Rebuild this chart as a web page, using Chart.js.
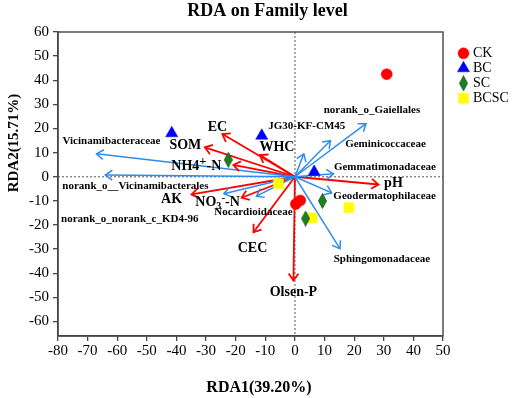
<!DOCTYPE html>
<html><head><meta charset="utf-8">
<script src="https://cdn.jsdelivr.net/npm/chart.js@4/dist/chart.umd.min.js"></script>
<style>html,body{margin:0;padding:0;background:#fff;}canvas{display:block;}</style>
</head><body>
<canvas id="c" width="512" height="398"></canvas>
<script>
// ---- data ----
const xTicks = [-80,-70,-60,-50,-40,-30,-20,-10,0,10,20,30,40,50];
const yTicks = [-60,-50,-40,-30,-20,-10,0,10,20,30,40,50,60];
const groups = ['CK','BC','SC','BCSC'];
const ckX = [31, 0.3, 1.8];
const ckY = [42.5, -11.3, -9.8];
const bcX = [-41.6, -11.2, 6.5];
const bcY = [18, 17, 2];
const scX = [-22.5, 9.3, 3.6];
const scY = [7, -10, -17.3];
const bcscX = [-5.6, 18.2, 5.8];
const bcscY = [-2.8, -12.8, -17];
const envNames = ['EC','SOM','NH4+-N','WHC','AK','NO3-N','CEC','Olsen-P','pH'];
const envX = [-24.5, -30.4, -20.8, -11.8, -34.9, -18, -14, -0.5, 28.2];
const envY = [17.7, 12.2, 4.9, 9, -7.3, -8.7, -23, -43, -3.2];
const spNames = ['Vicinamibacteraceae','norank_o__Vicinamibacterales','norank_o_norank_c_KD4-96','Nocardioidaceae','JG30-KF-CM45','Geminicoccaceae','norank_o_Gaiellales','Gemmatimonadaceae','Geodermatophilaceae','Sphingomonadaceae'];
const spX = [-67, -64, -24, -13, 3, 12, 24, 13, 12.4, 15.2];
const spY = [9.5, 0.7, -7, -8, 9.5, 15, 22, 1.2, -6.7, -29.8];

// ---- styling (pixel offsets of labels from arrow tips) ----
const envLabelOff = [[-5,-7],[-19.5,-2],[-37,1],[17,-7.5],[-20,5],[-24,5],[-1,16],[0,12],[15,-1]];
const spLabelOff = [[15,-13],[30,11],[-94,26],[-3,16],[3,-28],[55,4],[6,-14],[51.5,-7],[53,3],[42,10.5]];
const RED = '#ff0000', BLUE = '#2a8cf0';
const SERIF = '"Liberation Serif", "Times New Roman", serif';

function pts(xs, ys){ return xs.map((x,i)=>({x:x, y:ys[i]})); }

// elongated diamond marker
function makeDiamond(w,h){
  const cv = document.createElement('canvas'); cv.width = w; cv.height = h;
  const c = cv.getContext('2d');
  c.beginPath(); c.moveTo(w/2,0.5); c.lineTo(w-0.5,h/2); c.lineTo(w/2,h-0.5); c.lineTo(0.5,h/2); c.closePath();
  c.fillStyle = '#1f7f1f'; c.fill(); c.strokeStyle='#145214'; c.lineWidth=0.8; c.stroke();
  return cv;
}
const diamond = makeDiamond(9,16);

const datasets = [];
envNames.forEach((n,i)=>{
  datasets.push({label:'env_'+n, data:[{x:0,y:0},{x:envX[i],y:envY[i]}], showLine:true, borderColor:RED, borderWidth:1.8, pointRadius:0, order:2, kind:'env', idx:i});
});
spNames.forEach((n,i)=>{
  datasets.push({label:'sp_'+n, data:[{x:0,y:0},{x:spX[i],y:spY[i]}], showLine:true, borderColor:BLUE, borderWidth:1.5, pointRadius:0, order:1, kind:'sp', idx:i});
});
const sampleStyles = [
  {pointStyle:'circle', radius:5.5, backgroundColor:'#ff0000', borderColor:'#ff0000'},
  {pointStyle:'triangle', radius:7, backgroundColor:'#0000ff', borderColor:'#0000ff'},
  {pointStyle:diamond, radius:8, backgroundColor:'#1f7f1f', borderColor:'#1f7f1f'},
  {pointStyle:'rect', radius:7, backgroundColor:'#ffff00', borderColor:'#ffff00'}
];
const sampleData = [pts(ckX,ckY), pts(bcX,bcY), pts(scX,scY), pts(bcscX,bcscY)];
groups.forEach((g,i)=>{
  const s = sampleStyles[i];
  datasets.push({label:g, data:sampleData[i], showLine:false, pointStyle:s.pointStyle, pointRadius:s.radius, pointBackgroundColor:s.backgroundColor, pointBorderColor:s.borderColor, pointBorderWidth:0.5, order:0, kind:'sample'});
});

function richText(ctx, segs, cx, cy, size, weight){
  let total = 0;
  segs.forEach(s=>{ ctx.font = weight+' '+(size*s[2])+'px '+SERIF; total += ctx.measureText(s[0]).width; });
  let x = cx - total/2;
  ctx.textAlign='left'; ctx.textBaseline='middle';
  segs.forEach(s=>{ ctx.font = weight+' '+(size*s[2])+'px '+SERIF; ctx.fillText(s[0], x, cy + s[1]); x += ctx.measureText(s[0]).width; });
}

const rdaPlugin = {
  id:'rda',
  beforeDatasetsDraw(chart){
    const ctx = chart.ctx, xs = chart.scales.x, ys = chart.scales.y, a = chart.chartArea;
    ctx.save();
    ctx.strokeStyle = '#7a7a7a'; ctx.lineWidth = 1.3; ctx.setLineDash([2,2]);
    const x0 = xs.getPixelForValue(0), y0 = ys.getPixelForValue(0);
    ctx.beginPath(); ctx.moveTo(x0, a.top); ctx.lineTo(x0, a.bottom); ctx.stroke();
    ctx.beginPath(); ctx.moveTo(a.left, y0); ctx.lineTo(a.right, y0); ctx.stroke();
    ctx.restore();
  },
  afterDatasetsDraw(chart){
    const ctx = chart.ctx, xs = chart.scales.x, ys = chart.scales.y, a = chart.chartArea;
    ctx.save();
    // arrowheads
    chart.data.datasets.forEach(ds=>{
      if (ds.kind!=='env' && ds.kind!=='sp') return;
      const p0 = ds.data[0], p1 = ds.data[1];
      const x0 = xs.getPixelForValue(p0.x), y0 = ys.getPixelForValue(p0.y);
      const x1 = xs.getPixelForValue(p1.x), y1 = ys.getPixelForValue(p1.y);
      const ang = Math.atan2(y1-y0, x1-x0), L = 8.5, h = 0.62;
      ctx.strokeStyle = ds.borderColor; ctx.lineWidth = ds.borderWidth; ctx.setLineDash([]);
      ctx.beginPath();
      ctx.moveTo(x1 - L*Math.cos(ang-h), y1 - L*Math.sin(ang-h));
      ctx.lineTo(x1, y1);
      ctx.lineTo(x1 - L*Math.cos(ang+h), y1 - L*Math.sin(ang+h));
      ctx.stroke();
    });
    // labels
    ctx.fillStyle = '#000';
    envNames.forEach((n,i)=>{
      const px = xs.getPixelForValue(envX[i]) + envLabelOff[i][0];
      const py = ys.getPixelForValue(envY[i]) + envLabelOff[i][1];
      let segs;
      if (n==='NH4+-N') segs = [['NH4',0,1],['+',-4,0.9],['-N',0,1]];
      else if (n==='NO3-N') segs = [['NO',0,1],['3',4,0.72],['-',-5,0.8],['-N',0,1]];
      else segs = [[n,0,1]];
      richText(ctx, segs, px, py, 14, 'bold');
    });
    ctx.font = 'bold 11px '+SERIF; ctx.textAlign='center'; ctx.textBaseline='middle';
    spNames.forEach((n,i)=>{
      const px = xs.getPixelForValue(spX[i]) + spLabelOff[i][0];
      const py = ys.getPixelForValue(spY[i]) + spLabelOff[i][1];
      ctx.fillText(n, px, py);
    });
    // frame
    ctx.strokeStyle = '#454545'; ctx.lineWidth = 1.4;
    ctx.strokeRect(a.left, a.top, a.right-a.left, a.bottom-a.top);
    ctx.restore();
  },
  afterDraw(chart){
    const ctx = chart.ctx, a = chart.chartArea;
    ctx.save();
    ctx.fillStyle = '#000'; ctx.textAlign='center'; ctx.textBaseline='middle';
    ctx.font = 'bold 18px '+SERIF;
    ctx.fillText('RDA on Family level', 267.5, 11);
    ctx.font = 'bold 16px '+SERIF;
    ctx.fillText('RDA1(39.20%)', 259, 388);
    ctx.save(); ctx.translate(14, 143); ctx.rotate(-Math.PI/2);
    ctx.font = 'bold 15px '+SERIF; ctx.fillText('RDA2(15.71%)', 0, 0); ctx.restore();
    // legend
    const ly = [53.3, 68.3, 83.3, 98.3];
    groups.forEach((g,i)=>{
      const s = sampleStyles[i];
      ctx.fillStyle = s.backgroundColor; ctx.strokeStyle = s.borderColor; ctx.lineWidth = 0.5;
      Chart.helpers.drawPoint(ctx, {pointStyle:s.pointStyle, radius:s.radius, rotation:0, borderWidth:0.5}, 463.5, ly[i]);
      ctx.fillStyle = '#000'; ctx.font = '14px '+SERIF; ctx.textAlign='left'; ctx.textBaseline='middle';
      ctx.fillText(g, 473, ly[i]+0.5);
    });
    ctx.restore();
  }
};

new Chart(document.getElementById('c'), {
  type:'scatter',
  data:{datasets:datasets},
  options:{
    responsive:false, animation:false, devicePixelRatio:1,
    layout:{padding:{top:32, right:69, left:0, bottom:0}},
    plugins:{legend:{display:false}, tooltip:{enabled:false}, title:{display:false}},
    elements:{line:{tension:0}},
    scales:{
      x:{type:'linear', min:xTicks[0], max:xTicks[xTicks.length-1],
        afterBuildTicks:(s)=>{ s.ticks = xTicks.map(v=>({value:v})); },
        afterFit:(s)=>{ s.height = 62; },
        ticks:{font:{family:SERIF, size:15}, color:'#000', padding:1, maxRotation:0, autoSkip:false},
        grid:{drawOnChartArea:false, drawTicks:true, tickLength:5, color:'#454545', lineWidth:1.3},
        border:{display:true, color:'#454545', width:1.4}
      },
      y:{type:'linear', min:-66, max:60,
        afterBuildTicks:(s)=>{ s.ticks = yTicks.map(v=>({value:v})); },
        afterFit:(s)=>{ s.width = 58; },
        ticks:{font:{family:SERIF, size:15}, color:'#000', padding:4, autoSkip:false},
        grid:{drawOnChartArea:false, drawTicks:true, tickLength:5, color:'#454545', lineWidth:1.3},
        border:{display:true, color:'#454545', width:1.4}
      }
    }
  },
  plugins:[rdaPlugin]
});
</script>
</body></html>
